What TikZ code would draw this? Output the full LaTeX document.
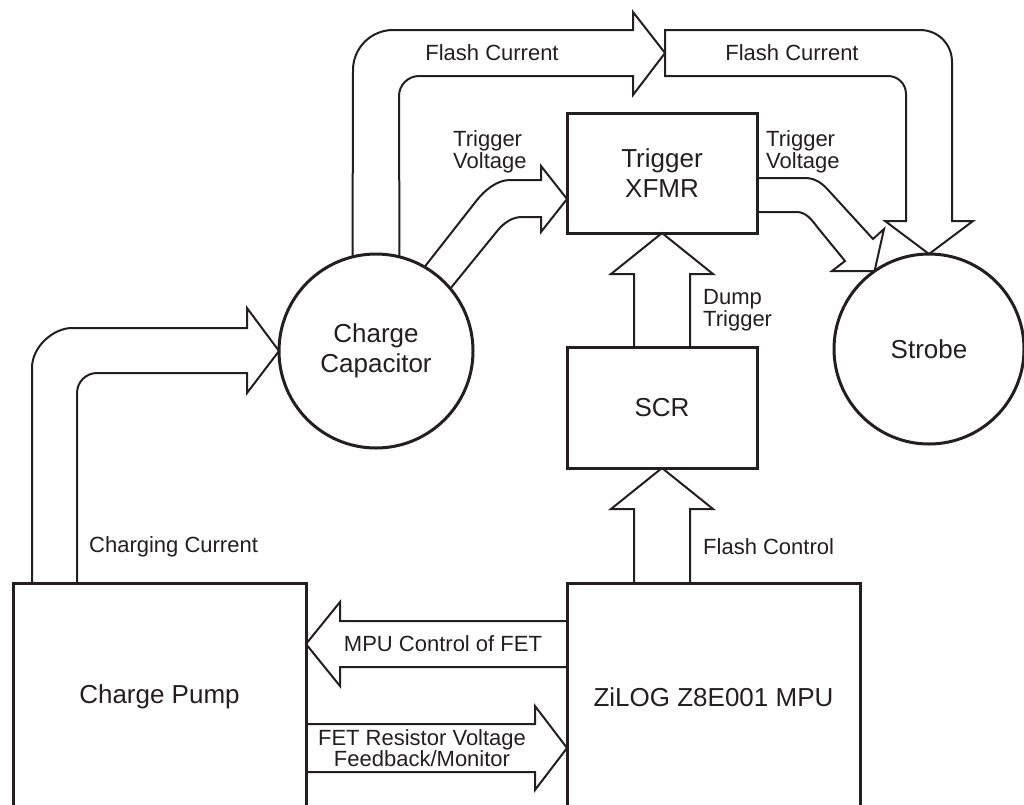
\documentclass[tikz,border=0pt]{standalone}
\usepackage{fontspec}
\setmainfont{Liberation Sans}
\usetikzlibrary{calc}
\definecolor{ink}{RGB}{35,31,32}
% block and label fonts
\newcommand{\boxfont}{\fontsize{26}{30}\selectfont}
\newcommand{\labfont}{\fontsize{22}{20}\selectfont}

\begin{document}
\begin{tikzpicture}[x=1pt, y=-1pt,
    block/.style={draw=ink, line width=3pt, inner sep=0pt, outer sep=0pt, align=center, text=ink, font=\boxfont},
    blob/.style={block, circle, minimum size=#1},
    fat/.style={draw=ink, line width=2pt, line join=miter},
    lbl/.style={inner sep=0pt, text=ink, font=\labfont}]
  \useasboundingbox (0,0) rectangle (1024,804);

  % blocks
  \node[block, minimum width=293pt, minimum height=228pt] (pump) at (159.5,697) {Charge Pump};
  \node[block, minimum width=293pt, minimum height=228pt] (mpu) at (713.5,697) {ZiLOG Z8E001 MPU};
  \node[block, minimum width=190pt, minimum height=120pt] (xfmr) at (662,173) {Trigger\\XFMR};
  \node[block, minimum width=190pt, minimum height=121pt] (scr) at (662,407.5) {SCR};
  \node[blob=194pt] (cap) at (376,351) {Charge\\Capacitor};
  \node[blob=190pt] (strobe) at (929,349) {Strobe};

  % charging current, pump up and over into the capacitor
  \draw[fat] (32,0 |- pump.north) -- (32,368) .. controls (32,346) and (54,328) .. (72,328)
    -- (247,328) -- (247,308) -- (cap.west) -- (247,393) -- (247,373)
    -- (97,373) .. controls (86,373) and (77,382) .. (77,393) -- (77,0 |- pump.north);

  % flash current, first leg off the top of the capacitor
  \draw[fat] (cap.104) -- (353,70) .. controls (353,48) and (371,30) .. (393,30)
    -- (633,30) -- (633,12) -- (665,53) coordinate (fctip) -- (633,95) -- (633,76)
    -- (419,76) .. controls (408,76) and (399,85) .. (399,96) -- (cap.76);
  % flash current, second leg down into the strobe
  \draw[fat] (fctip |- 0,30) -- (920,30) .. controls (938,30) and (952,44) .. (952,62)
    -- (952,221) -- (973,221) -- (strobe.north) -- (885,221) -- (906,221)
    -- (906,94) .. controls (906,84) and (898,76) .. (888,76) -- (fctip |- 0,76) -- cycle;

  % trigger voltage in and out of the transformer
  \draw[fat] (cap.60) -- (477,200) .. controls (485,190) and (497,180) .. (510,180)
    -- (541,180) -- (541,166) -- (xfmr.west |- 0,199) -- (541,232) -- (541,217)
    -- (522,217) .. controls (512,217) and (504,223) .. (498,230) -- (cap.40);
  \draw[fat] (xfmr.east |- 0,178) -- (805,178) .. controls (816,178) and (823,184) .. (830,192)
    -- (873,239) -- (884,229) -- (strobe.125) -- (832,271) -- (845,261)
    -- (818,228) .. controls (812,220) and (806,212) .. (797,212) -- (xfmr.east |- 0,212);

  % dump trigger and flash control
  \draw[fat] (634,0 |- scr.north) -- (634,274) -- (611,274) -- (xfmr.south)
    -- (713,274) -- (690,274) -- (690,0 |- scr.north);
  \draw[fat] (634,0 |- mpu.north) -- (634,509) -- (611,509) -- (scr.south)
    -- (713,509) -- (690,509) -- (690,0 |- mpu.north);

  % FET control and feedback
  \draw[fat] (mpu.west |- 0,621) -- (340,621) -- (340,602) -- (pump.east |- 0,644)
    -- (340,686) -- (340,667) -- (mpu.west |- 0,667);
  \draw[fat] (pump.east |- 0,724) -- (535,724) -- (535,706) -- (mpu.west |- 0,748)
    -- (535,790) -- (535,772) -- (pump.east |- 0,772);

  % labels
  \node[lbl] (fc1) at (492,53) {Flash Current};
  \node[lbl] (fc2) at (792,53) {Flash Current};
  \node[lbl, anchor=west, align=left] (tv1) at (453,152) {Trigger\\Voltage};
  \node[lbl, anchor=west, align=left] (tv2) at (766,152) {Trigger\\Voltage};
  \node[lbl, anchor=west, align=left] (dt) at (703,310) {Dump\\Trigger};
  \node[lbl, anchor=west] (fcl) at (703,547) {Flash Control};
  \node[lbl, anchor=west] (cc) at (89,547) {Charging Current};
  \node[lbl] (mcf) at (443,644) {MPU Control of FET};
  \node[lbl, align=center] (frv) at (422,748) {FET Resistor Voltage\\Feedback/Monitor};
\end{tikzpicture}
\end{document}
